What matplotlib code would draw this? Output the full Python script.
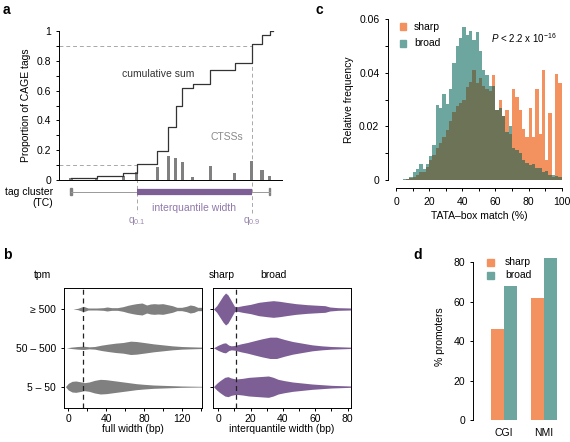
import matplotlib
matplotlib.use('Agg')
import matplotlib.pyplot as plt
from matplotlib.patches import Rectangle
import numpy as np

plt.rcParams['font.family'] = ['Liberation Sans', 'DejaVu Sans']
plt.rcParams['mathtext.fontset'] = 'custom'
plt.rcParams['mathtext.rm'] = 'Liberation Sans'
plt.rcParams['mathtext.it'] = 'Liberation Sans:italic'
plt.rcParams['font.size'] = 7.5
plt.rcParams['axes.linewidth'] = 0.7
plt.rcParams['xtick.major.width'] = 0.7
plt.rcParams['ytick.major.width'] = 0.7
plt.rcParams['xtick.major.size'] = 2.5
plt.rcParams['ytick.major.size'] = 2.5
plt.rcParams['xtick.labelsize'] = 7.5
plt.rcParams['ytick.labelsize'] = 7.5

# panel a: CTSS positions (bp) and proportion of tags
ctss_pos = [0, 7.5, 15.2, 19.1, 25.1, 28.3, 30.5, 32.4, 35.4, 40.5, 47.6, 52.6, 55.6, 57.8]
ctss_prop = [0.015, 0.01, 0.025, 0.057, 0.087, 0.16, 0.145, 0.12, 0.022, 0.095, 0.047, 0.128, 0.065, 0.024]

# panel c: TATA-box match histograms (2% bins)
tata_edges = list(range(0, 101, 2))
tata_sharp = [0, 0, 0.0001, 0.0003, 0.0006, 0.001, 0.002, 0.003, 0.003, 0.0048,
              0.0075, 0.0093, 0.0118, 0.0137, 0.016, 0.0186, 0.022, 0.0255, 0.0274, 0.0286,
              0.030, 0.0348, 0.0367, 0.041, 0.036, 0.038, 0.035, 0.034, 0.033, 0.039,
              0.026, 0.030, 0.024, 0.026, 0.017, 0.034, 0.031, 0.026, 0.019, 0.016,
              0.027, 0.016, 0.034, 0.017, 0.041, 0.0075, 0.025, 0.001, 0.0395, 0.036]
tata_broad = [0, 0, 0.0002, 0.0005, 0.001, 0.003, 0.004, 0.006, 0.004, 0.006,
              0.009, 0.013, 0.028, 0.027, 0.032, 0.0285, 0.034, 0.0435, 0.050, 0.053,
              0.057, 0.054, 0.0556, 0.052, 0.055, 0.048, 0.041, 0.039, 0.035, 0.035,
              0.026, 0.027, 0.024, 0.018, 0.020, 0.012, 0.011, 0.010, 0.0075, 0.0062,
              0.0056, 0.006, 0.0043, 0.0045, 0.003, 0.0033, 0.0019, 0.0017, 0.0015, 0.0012]

# panel b: violin profiles (position, relative density)
tpm_labels = ['5 \u2013 50', '50 \u2013 500', '\u2265 500']
full_x = [
    [-3, 0, 4, 8, 12, 17, 22, 28, 34, 40, 48, 56, 64, 72, 80, 90, 100, 110, 120, 130, 142],
    [-2, 3, 10, 16, 22, 28, 35, 42, 50, 58, 66, 72, 80, 90, 100, 110, 120, 130, 142],
    [5, 10, 16, 21, 30, 37, 41, 46, 52, 58, 63, 68, 72, 78, 83, 87, 91, 95, 100, 105, 110, 115, 120, 125, 129, 133, 137, 142],
]
full_d = [
    [0, 10, 16, 17, 15, 12, 14, 19, 22, 21, 18, 15, 12, 9, 7, 5, 4, 3, 2, 1.5, 1],
    [0, 2, 4, 5, 3, 4, 8, 11, 14, 16, 20, 19, 16, 12, 9, 6, 4, 3, 2],
    [0, 2, 8, 3, 3, 4, 6, 4, 4, 7, 11, 14, 16, 18, 12, 15, 16, 15, 16, 13, 10, 5, 5, 8, 12, 10, 5, 5],
]
iq_x = [
    [-3, -1, 1, 4, 6, 8, 11, 15, 19, 25, 31, 34, 37, 41, 46, 52, 58, 64, 70, 76, 82],
    [-3, 0, 3, 4.5, 6.5, 8, 10, 14, 18, 22, 27, 32, 36, 41, 46, 52, 58, 64, 70, 76, 82],
    [-3, -1, 1, 3, 4.5, 6, 8, 10, 12, 15, 20, 25, 30, 34, 38, 42, 48, 55, 62, 66, 69, 74, 82],
]
iq_d = [
    [0, 10, 18, 28, 30, 26, 23, 25, 28, 30, 32, 28, 22, 18, 14, 11, 8, 6, 4, 3, 2],
    [0, 8, 14, 15, 8, 6, 7, 12, 16, 21, 27, 32, 32, 25, 19, 14, 9, 6, 4, 3, 2],
    [0, 10, 25, 40, 48, 42, 25, 8, 7, 10, 14, 20, 23, 25, 23, 20, 16, 13, 11, 10, 6, 4, 3],
]
full_cut = 16
iq_cut = 11

# panel d
groups = ['CGI', 'NMI']
pct_sharp = [46, 62]
pct_broad = [68, 82]

ORANGE = '#F4925F'
TEAL = '#6DA59F'
OLIVE = '#6D7356'
GREY = '#808080'
PURPLE = '#7D5F96'

W, H = 570, 442
fig = plt.figure(figsize=(W / 100, H / 100), dpi=100)


def box(x0, y0, x1, y1):
    return [x0 / W, 1 - y1 / H, (x1 - x0) / W, (y1 - y0) / H]


def ftext(x, y, s, **kw):
    fig.text(x / W, 1 - y / H, s, **kw)


# ---------- panel a ----------
ax = fig.add_axes(box(59.3, 31, 282, 180))
pos = np.array(ctss_pos)
prop = np.array(ctss_prop)
cum = np.cumsum(prop)
ax.bar(pos, prop, width=0.95, color=GREY, lw=0, zorder=2)
ax.step(np.append(pos, pos[-1] + 1), np.append(cum, cum[-1]), where='post', color='#333333', lw=0.9, zorder=3)
ax.set_xlim(-3.4, 61.4)
ax.set_ylim(0, 1)
ax.spines['top'].set_visible(False)
ax.spines['right'].set_visible(False)
ax.set_xticks([])
ax.set_yticks(np.arange(0, 1.01, 0.1))
ax.set_yticklabels(['0', '', '0.2', '', '0.4', '', '0.6', '', '0.8', '', '1'])
ax.set_ylabel('Proportion of CAGE tags', fontsize=7.5, labelpad=4)

q1 = pos[np.argmax(cum >= 0.1)]
q9 = pos[np.argmax(cum >= 0.9)]
dash_col = '#A8A8A8'
for q, lev in [(q1, 0.1), (q9, 0.9)]:
    ax.plot([-3.4, q], [lev, lev], ls=(0, (4, 3)), color=dash_col, lw=0.7, zorder=1)
    ax.plot([q, q], [lev, -0.22], ls=(0, (4, 3)), color=dash_col, lw=0.7, zorder=1, clip_on=False)
tc_y = -0.079
ax.plot([pos[0], pos[-1]], [tc_y, tc_y], color='#999999', lw=0.7, clip_on=False)
for p in [pos[0], pos[-1]]:
    ax.add_patch(Rectangle((p - 0.2, tc_y - 0.022), 0.4, 0.044, color=GREY, clip_on=False))
ax.plot([q1, q9], [tc_y, tc_y], color=PURPLE, lw=4.5, solid_capstyle='butt', clip_on=False)
ax.text((q1 + q9) / 2, -0.19, 'interquantile width', color='#9078AA', ha='center', va='center', fontsize=7.5)
ax.text(q1, -0.275, 'q$_{0.1}$', color='#9A88AC', ha='center', va='center', fontsize=7.5)
ax.text(q9, -0.275, 'q$_{0.9}$', color='#9A88AC', ha='center', va='center', fontsize=7.5)
ax.text(-5.3, -0.12, 'tag cluster\n(TC)', ha='right', va='center', fontsize=7.5, linespacing=1.1, clip_on=False)
ax.text(25.4, 0.71, 'cumulative sum', color='#333333', ha='center', va='center', fontsize=7.5)
ax.text(45.3, 0.29, 'CTSSs', color='#8A8A8A', ha='center', va='center', fontsize=7.5)
ftext(3, 10, 'a', fontsize=10, fontweight='bold', va='center')

# ---------- panel c ----------
ax = fig.add_axes(box(396, 19, 561.7, 180))
edges = np.array(tata_edges[:-1])
sh = np.array(tata_sharp)
br = np.array(tata_broad)
ax.bar(edges, sh, width=2, align='edge', color=ORANGE, lw=0)
ax.bar(edges, br, width=2, align='edge', color=TEAL, lw=0)
ax.bar(edges, np.minimum(sh, br), width=2, align='edge', color=OLIVE, lw=0)
ax.set_xlim(0, 100)
ax.set_ylim(0, 0.06)
for s in ['top', 'right']:
    ax.spines[s].set_visible(False)
ax.spines['left'].set_position(('outward', 6))
ax.spines['bottom'].set_position(('outward', 6))
ax.set_xticks(range(0, 101, 10))
ax.set_xticklabels(['0', '', '20', '', '40', '', '60', '', '80', '', '100'])
ax.set_yticks(np.arange(0, 0.061, 0.01))
ax.set_yticklabels(['0', '', '0.02', '', '0.04', '', '0.06'])
ax.set_xlabel('TATA\u2013box match (%)', fontsize=7.5, labelpad=3)
ax.set_ylabel('Relative frequency', fontsize=7.5, labelpad=4)
fig.add_artist(Rectangle((400 / W, 1 - 29.5 / H), 6 / W, 6.5 / H, color=ORANGE, transform=fig.transFigure))
fig.add_artist(Rectangle((400 / W, 1 - 46.5 / H), 6 / W, 6.5 / H, color=TEAL, transform=fig.transFigure))
ftext(414, 26.5, 'sharp', fontsize=7.5, va='center')
ftext(414, 43.5, 'broad', fontsize=7.5, va='center')
ftext(491, 38, '$P$ < 2.2 x 10$^{-16}$', fontsize=7, va='center')
ftext(315, 10, 'c', fontsize=10, fontweight='bold', va='center')

# ---------- panel b ----------
vscale = 1 / 116.4
axl = fig.add_axes(box(64.3, 288.3, 202.3, 408.3))
axr = fig.add_axes(box(213.3, 288.3, 351, 408.3))
for i in range(3):
    xs = np.array(full_x[i])
    d = np.array(full_d[i]) * vscale
    axl.fill_between(xs, i - d, i + d, color=GREY, lw=0)
    xs = np.array(iq_x[i])
    d = np.array(iq_d[i]) * vscale
    axr.fill_between(xs, i - d, i + d, color=PURPLE, lw=0)
axl.set_xlim(-4.2, 141.8)
axr.set_xlim(-3.1, 82.1)
for a in (axl, axr):
    a.set_ylim(-0.557, 2.533)
    a.set_yticks([0, 1, 2])
    a.tick_params(axis='x', pad=1.5)
axl.axvline(full_cut, color='#222222', ls=(0, (4, 3)), lw=0.9)
axr.axvline(iq_cut, color='#222222', ls=(0, (4, 3)), lw=0.9)
axl.set_yticklabels(tpm_labels)
axr.set_yticklabels([])
axl.set_xticks(range(0, 141, 20))
axl.set_xticklabels(['0', '', '40', '', '80', '', '120', ''])
axr.set_xticks(range(0, 81, 10))
axr.set_xticklabels(['0', '', '20', '', '40', '', '60', '', '80'])
axl.set_xlabel('full width (bp)', fontsize=7.5, labelpad=0)
axr.set_xlabel('interquantile width (bp)', fontsize=7.5, labelpad=0)
ftext(43, 275, 'tpm', fontsize=7.5, ha='center', va='center')
ftext(222, 275, 'sharp', fontsize=7.5, ha='center', va='center')
ftext(273, 275, 'broad', fontsize=7.5, ha='center', va='center')
ftext(3, 255, 'b', fontsize=10, fontweight='bold', va='center')

# ---------- panel d ----------
ax = fig.add_axes(box(473.3, 252.5, 565, 420))
gx = np.arange(len(groups))
bw = 1 / 3
ax.bar(gx - bw / 2, pct_sharp, width=bw, color=ORANGE, clip_on=False)
ax.bar(gx + bw / 2, pct_broad, width=bw, color=TEAL, clip_on=False)
ax.set_xlim(-0.77, 1.525)
ax.set_ylim(0, 85)
for s in ['top', 'right', 'bottom']:
    ax.spines[s].set_visible(False)
ax.spines['left'].set_bounds(0, 80)
ax.set_yticks(range(0, 81, 20))
ax.set_xticks(gx)
ax.set_xticklabels(groups)
ax.tick_params(axis='x', length=0, pad=6)
ax.set_ylabel('% promoters', fontsize=7.5, labelpad=6)
fig.add_artist(Rectangle((487 / W, 1 - 265.5 / H), 7 / W, 7 / H, color=ORANGE, transform=fig.transFigure))
fig.add_artist(Rectangle((487 / W, 1 - 278.5 / H), 7 / W, 7 / H, color=TEAL, transform=fig.transFigure))
ftext(505, 262, 'sharp', fontsize=7.5, va='center')
ftext(505, 275, 'broad', fontsize=7.5, va='center')
ftext(413, 255, 'd', fontsize=10, fontweight='bold', va='center')

fig.savefig('out.png', dpi=100)
